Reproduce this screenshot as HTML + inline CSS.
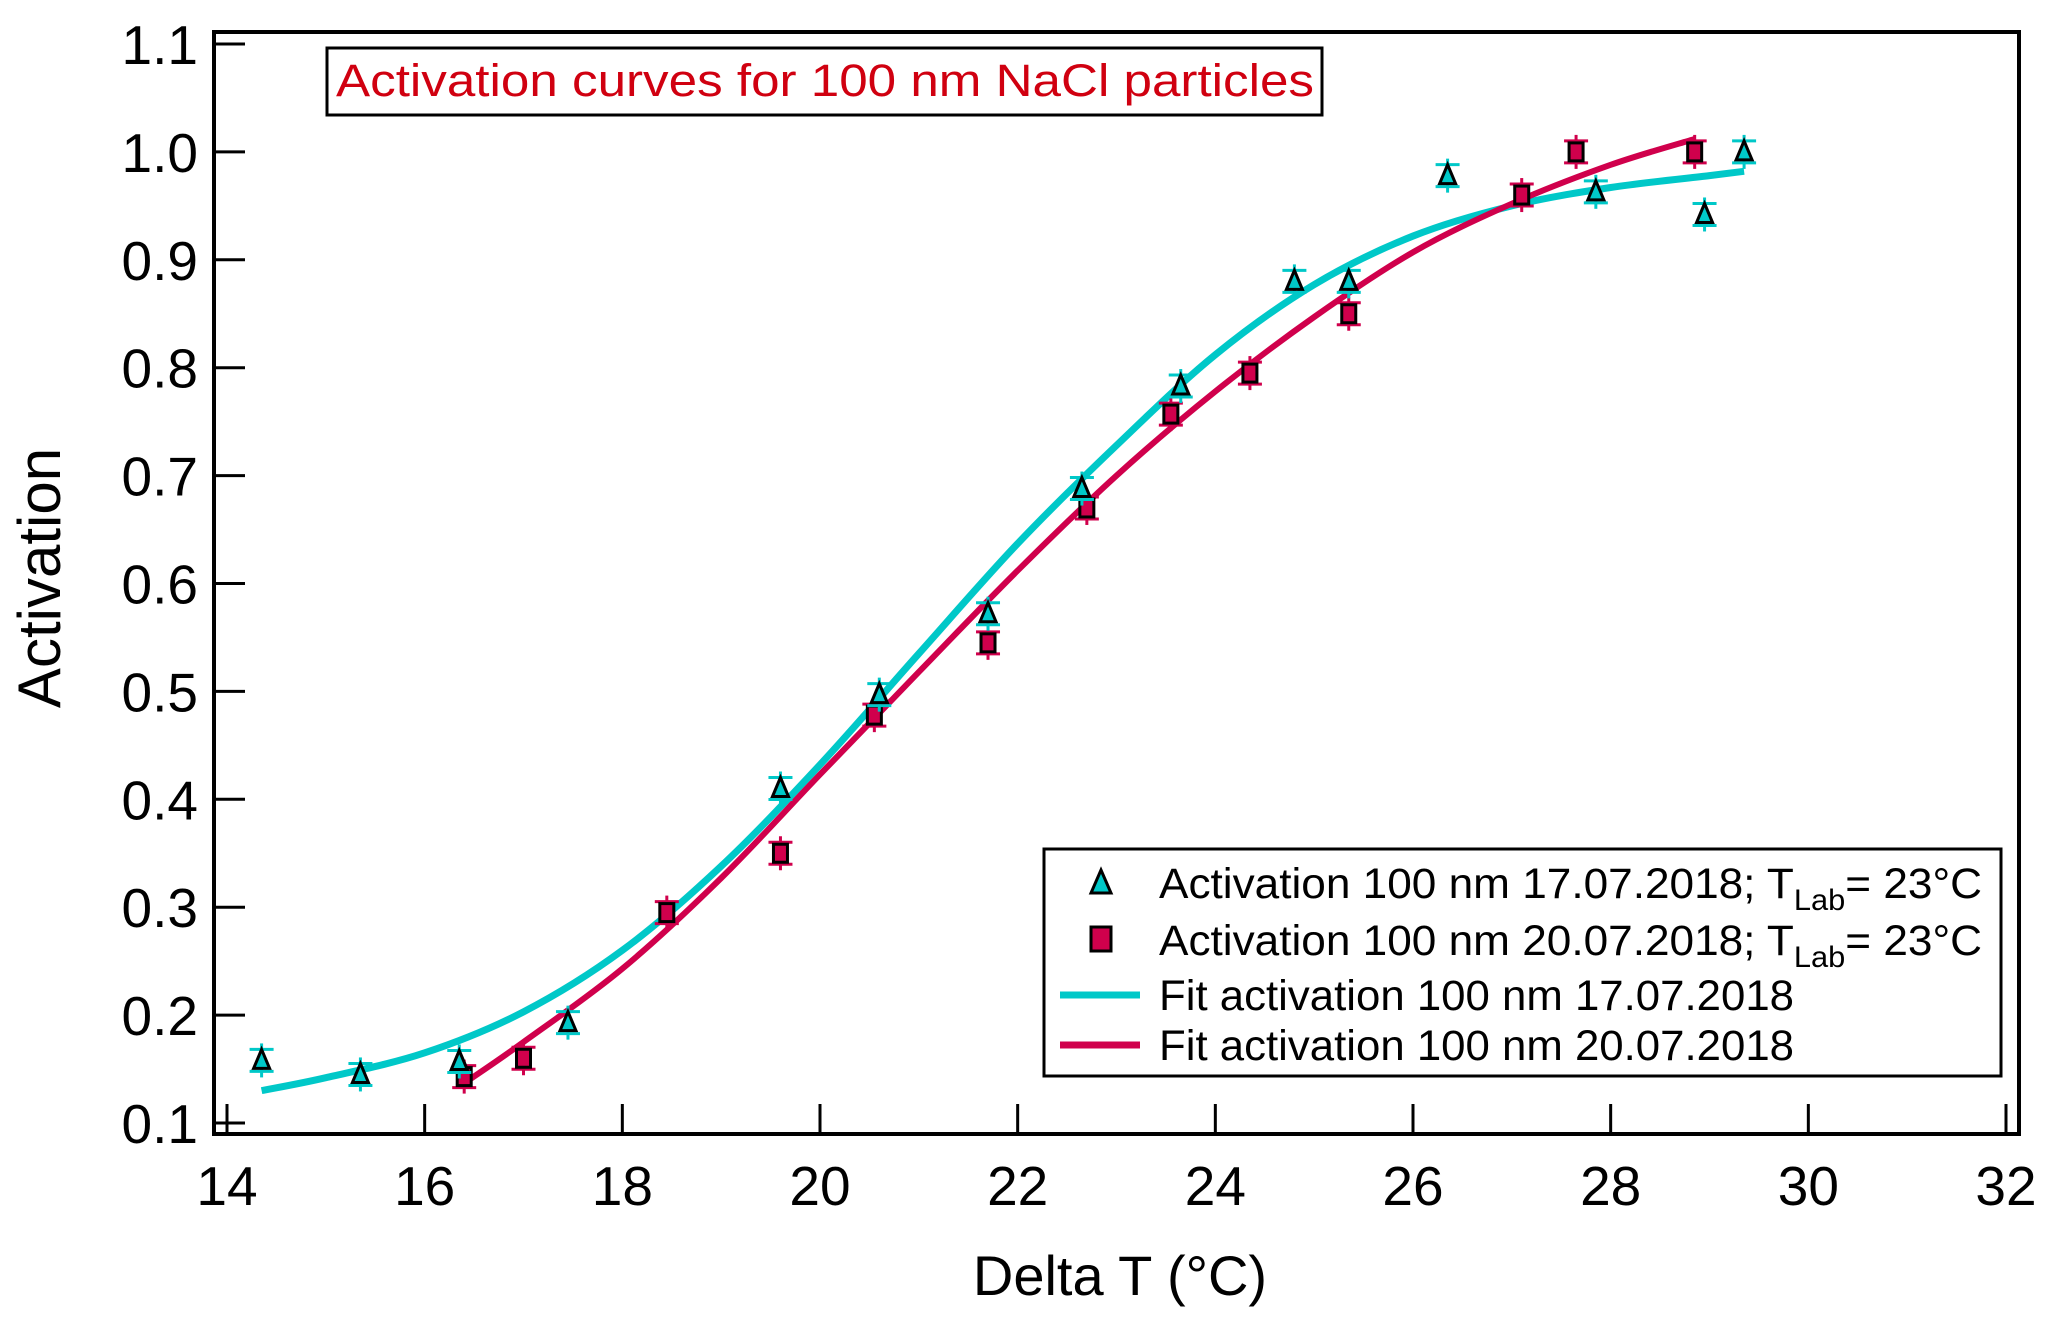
<!DOCTYPE html>
<html><head><meta charset="utf-8"><style>
html,body{margin:0;padding:0;background:#fff;}
svg{display:block;font-family:"Liberation Sans",Arial,sans-serif;}
</style></head><body>
<svg id="chart" width="2067" height="1332" viewBox="0 0 2067 1332" xmlns="http://www.w3.org/2000/svg">
<rect x="0" y="0" width="2067" height="1332" fill="#fff"/>
<g id="plot"></g>
<rect x="214" y="32" width="1805" height="1102" fill="none" stroke="#000" stroke-width="4"/>
<g id="axes"></g>
<text x="60" y="578" font-size="60" text-anchor="middle" transform="rotate(-90 60 578)">Activation</text>
<text x="1120" y="1295" font-size="56" text-anchor="middle">Delta T (°C)</text>
<g>
<rect x="327" y="48" width="995" height="67" fill="#fff" stroke="#000" stroke-width="3"/>
<text x="336" y="96" font-size="45" fill="#d00010" textLength="978" lengthAdjust="spacingAndGlyphs">Activation curves for 100 nm  NaCl particles</text>
</g>
<g>
<rect x="1044" y="849" width="957" height="227" fill="#fff" stroke="#000" stroke-width="3"/>
<g>
<polygon points="1101,870 1111,893 1091,893" fill="#00c8c8" stroke="#000" stroke-width="3"/>
<text x="1159" y="898" font-size="43" textLength="823" lengthAdjust="spacingAndGlyphs">Activation 100 nm 17.07.2018; T<tspan font-size="30" dy="12">Lab</tspan><tspan dy="-12">= 23°C</tspan></text>
</g>
<g>
<rect x="1091" y="927" width="20" height="24" fill="#d0004c" stroke="#000" stroke-width="3"/>
<text x="1159" y="955" font-size="43" textLength="823" lengthAdjust="spacingAndGlyphs">Activation 100 nm 20.07.2018; T<tspan font-size="30" dy="12">Lab</tspan><tspan dy="-12">= 23°C</tspan></text>
</g>
<g>
<line x1="1060" y1="995" x2="1140" y2="995" stroke="#00c8c8" stroke-width="7"/>
<text x="1159" y="1010" font-size="43" textLength="635" lengthAdjust="spacingAndGlyphs">Fit activation 100 nm 17.07.2018</text>
</g>
<g>
<line x1="1060" y1="1045" x2="1140" y2="1045" stroke="#d0004c" stroke-width="7"/>
<text x="1159" y="1060" font-size="43" textLength="635" lengthAdjust="spacingAndGlyphs">Fit activation 100 nm 20.07.2018</text>
</g>
</g>
</svg>
<script>
const xTicks = [14,16,18,20,22,24,26,28,30,32];
const yTicks = [0.1,0.2,0.3,0.4,0.5,0.6,0.7,0.8,0.9,1.0,1.1];
const yTickLabels = ["0.1","0.2","0.3","0.4","0.5","0.6","0.7","0.8","0.9","1.0","1.1"];
const triX = [14.35,15.35,16.35,17.45,19.6,20.6,21.7,22.65,23.65,24.8,25.35,26.35,27.85,28.95,29.35];
const triY = [0.158,0.145,0.157,0.193,0.41,0.497,0.572,0.688,0.783,0.88,0.88,0.978,0.963,0.942,1.0];
const sqX = [16.4,17.0,18.45,19.6,20.55,21.7,22.7,23.55,24.35,25.35,27.1,27.65,28.85];
const sqY = [0.143,0.16,0.295,0.35,0.478,0.545,0.67,0.757,0.795,0.85,0.96,1.0,1.0];
const fitCX = [14.35,15,16,17,18,19,20,21,22,23,24,25,26,27,28,29,29.35];
const fitCY = [0.13,0.142,0.165,0.203,0.26,0.338,0.432,0.535,0.637,0.728,0.812,0.877,0.922,0.95,0.967,0.978,0.982];
const fitMX = [16.45,17,18,19,20,21,22,23,24,25,26,27,28,28.85];
const fitMY = [0.14,0.175,0.243,0.327,0.423,0.518,0.612,0.7,0.778,0.847,0.907,0.952,0.988,1.012];

const NS = "http://www.w3.org/2000/svg";
const X0 = 227, X1 = 2006, Y0 = 1123, Y1 = 44;
function xs(v){ return X0 + (v-14)/(32-14)*(X1-X0); }
function ys(v){ return Y0 - (v-0.1)/(1.1-0.1)*(Y0-Y1); }
function mk(tag, attrs, parent){ const e=document.createElementNS(NS,tag); for(const k in attrs) e.setAttribute(k,attrs[k]); parent.appendChild(e); return e; }
const axes = document.getElementById('axes');
const plot = document.getElementById('plot');
const CY="#00c8c8", MG="#d0004c";

xTicks.forEach(t=>{
  const l = mk('line',{x1:xs(t),x2:xs(t),y1:1134,y2:1104,stroke:'#000','stroke-width':3},axes);
  
  
  const tx = mk('text',{x:xs(t),y:1205,'font-size':55,'text-anchor':'middle'},axes);
  tx.textContent = String(t);
  
  
});
yTicks.forEach((t,i)=>{
  const l = mk('line',{x1:214,x2:245,y1:ys(t),y2:ys(t),stroke:'#000','stroke-width':3},axes);
  
  
  const tx = mk('text',{x:198,y:ys(t)+20,'font-size':55,'text-anchor':'end'},axes);
  tx.textContent = yTickLabels[i];
  
  
});

function smoothPath(xa, ya){
  const p = xa.map((x,i)=>[xs(x),ys(ya[i])]);
  let d = 'M'+p[0][0]+','+p[0][1];
  for(let i=0;i<p.length-1;i++){
    const p0=p[Math.max(0,i-1)],p1=p[i],p2=p[i+1],p3=p[Math.min(p.length-1,i+2)];
    const c1=[p1[0]+(p2[0]-p0[0])/6,p1[1]+(p2[1]-p0[1])/6];
    const c2=[p2[0]-(p3[0]-p1[0])/6,p2[1]-(p3[1]-p1[1])/6];
    d+=' C'+c1[0]+','+c1[1]+' '+c2[0]+','+c2[1]+' '+p2[0]+','+p2[1];
  }
  return d;
}
const fc = mk('path',{d:smoothPath(fitCX,fitCY),fill:'none',stroke:CY,'stroke-width':7},plot);


const fm = mk('path',{d:smoothPath(fitMX,fitMY),fill:'none',stroke:MG,'stroke-width':6},plot);



function errBar(x,y,col,g){
  const cx=xs(x), cy=ys(y), e=17;
  mk('line',{x1:cx,x2:cx,y1:cy-e,y2:cy+e,stroke:col,'stroke-width':3},g);
  mk('line',{x1:cx-12,x2:cx+12,y1:cy-e+6,y2:cy-e+6,stroke:col,'stroke-width':3},g);
  mk('line',{x1:cx-12,x2:cx+12,y1:cy+e-6,y2:cy+e-6,stroke:col,'stroke-width':3},g);
}
sqX.forEach((x,i)=>{
  const g = mk('g',{},plot);
  
  
  errBar(x,sqY[i],MG,g);
  mk('rect',{x:xs(x)-7,y:ys(sqY[i])-9,width:14,height:18,fill:MG,stroke:'#000','stroke-width':3},g);
});
triX.forEach((x,i)=>{
  const g = mk('g',{},plot);
  
  
  errBar(x,triY[i],CY,g);
  const cx=xs(x), cy=ys(triY[i]);
  mk('polygon',{points:(cx)+','+(cy-11)+' '+(cx+8)+','+(cy+8)+' '+(cx-8)+','+(cy+8),fill:CY,stroke:'#000','stroke-width':3},g);
});
</script>
</body></html>
